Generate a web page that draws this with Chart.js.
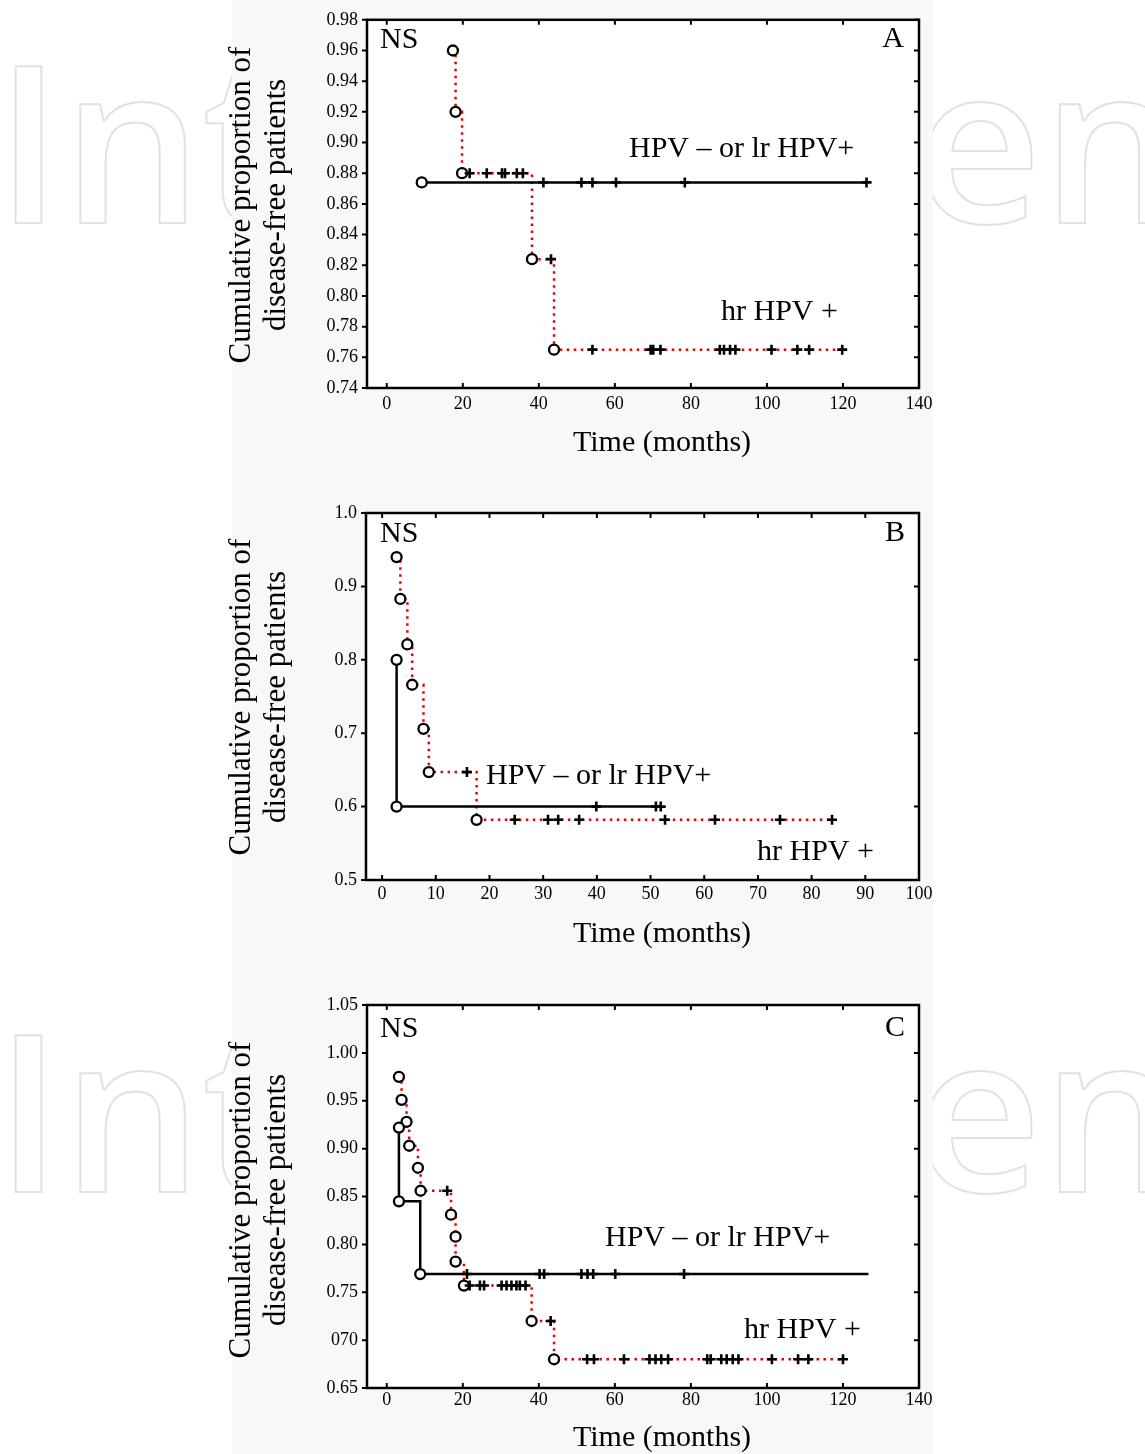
<!DOCTYPE html>
<html><head><meta charset="utf-8">
<script src="https://cdn.jsdelivr.net/npm/chart.js@4.4.0/dist/chart.umd.min.js"></script>
<style>
html,body{margin:0;padding:0;background:#fff;}
body{width:1145px;height:1454px;position:relative;overflow:hidden;}
.wm{position:absolute;font-family:'Open Sans';font-weight:600;font-size:220px;line-height:1;color:transparent;-webkit-text-stroke:2px #e2e2e2;white-space:nowrap;}
#bg{position:absolute;left:232px;top:0;width:701px;height:1454px;background:#f8f8f8;}
canvas{position:absolute;left:222px;}
</style></head><body>
<div class="wm" style="left:-5px;top:28px">Int</div>
<div class="wm" style="left:915px;top:28px">en</div>
<div class="wm" style="left:-5px;top:997px">Int</div>
<div class="wm" style="left:915px;top:997px">en</div>
<div id="bg"></div>
<canvas id="cA" width="720" height="475" style="top:0px"></canvas>
<canvas id="cB" width="720" height="475" style="top:490px"></canvas>
<canvas id="cC" width="720" height="469" style="top:985px"></canvas>
<script>
// ---------- Panel A ----------
const aXTicks = [0, 20, 40, 60, 80, 100, 120, 140];
const aYTicks = [0.74, 0.76, 0.78, 0.80, 0.82, 0.84, 0.86, 0.88, 0.90, 0.92, 0.94, 0.96, 0.98];
const aYTickLabels = ['0.74', '0.76', '0.78', '0.80', '0.82', '0.84', '0.86', '0.88', '0.90', '0.92', '0.94', '0.96', '0.98'];
const aLowEventTimes = [9.2];
const aLowEventValues = [0.874];
const aLowCensorTimes = [41.2, 51.2, 54.1, 60.3, 78.4, 126.2];
const aHighEventTimes = [17.4, 18.1, 19.8, 38.2, 44.0];
const aHighEventValues = [0.96, 0.92, 0.88, 0.824, 0.765];
const aHighCensorTimes = [21.8, 26.3, 30.3, 31.1, 34.2, 35.8, 43.2, 54.1, 69.4, 70.1, 72.0, 87.6, 88.7, 90.3, 91.7, 101.2, 108.0, 111.1, 119.8];

// ---------- Panel B ----------
const bXTicks = [0, 10, 20, 30, 40, 50, 60, 70, 80, 90, 100];
const bYTicks = [0.5, 0.6, 0.7, 0.8, 0.9, 1.0];
const bYTickLabels = ['0.5', '0.6', '0.7', '0.8', '0.9', '1.0'];
const bLowEventTimes = [2.7, 2.7];
const bLowEventValues = [0.80, 0.60];
const bLowCensorTimes = [39.9, 51.0, 51.9];
const bHighEventTimes = [2.7, 3.4, 4.7, 5.6, 7.7, 8.7, 17.6];
const bHighEventValues = [0.940, 0.883, 0.821, 0.766, 0.706, 0.647, 0.582];
const bHighCensorTimes = [15.8, 24.7, 30.9, 32.8, 36.7, 52.7, 62.0, 74.1, 83.8];

// ---------- Panel C ----------
const cXTicks = [0, 20, 40, 60, 80, 100, 120, 140];
const cYTicks = [0.65, 0.70, 0.75, 0.80, 0.85, 0.90, 0.95, 1.00, 1.05];
const cYTickLabels = ['0.65', '070', '0.75', '0.80', '0.85', '0.90', '0.95', '1.00', '1.05'];
const cLowEventTimes = [3.2, 3.2, 8.8];
const cLowEventValues = [0.922, 0.845, 0.769];
const cLowCensorTimes = [21.1, 40.2, 41.4, 51.2, 52.8, 54.3, 60.1, 78.2];
const cLowEndTime = 126.7;
const cHighEventTimes = [3.2, 3.9, 5.2, 5.9, 8.2, 8.9, 16.9, 18.1, 18.1, 20.3, 38.1, 44.0];
const cHighEventValues = [0.975, 0.951, 0.928, 0.903, 0.880, 0.856, 0.831, 0.808, 0.782, 0.757, 0.720, 0.680];
const cHighCensorTimes = [15.9, 21.8, 24.5, 25.6, 30.2, 31.5, 32.8, 34.1, 35.0, 36.5, 43.1, 52.7, 54.5, 62.4, 69.1, 70.7, 72.2, 74.0, 84.3, 85.2, 88.0, 89.4, 91.0, 92.5, 101.3, 108.2, 110.9, 120.0];

const lowLabel = 'HPV \u2013 or lr HPV+';
const highLabel = 'hr HPV +';
const SERIF = '"Liberation Serif", "Times New Roman", serif';
const RED = '#e60000';

function levelAt(times, values, t) {
  let lvl = null;
  for (let i = 0; i < times.length; i++) if (times[i] <= t) lvl = values[i];
  return lvl;
}
function buildPoints(evT, evV, cenT, endT) {
  const pts = evT.map((t, i) => ({x: t, y: evV[i], kind: 'e'}));
  cenT.forEach(t => pts.push({x: t, y: levelAt(evT, evV, t), kind: 'c'}));
  if (endT != null) pts.push({x: endT, y: levelAt(evT, evV, endT), kind: 'n'});
  pts.sort((a, b) => a.x - b.x);
  return pts;
}
function curveDataset(pts, color, dash) {
  return {
    data: pts, showLine: true, stepped: 'before',
    borderColor: color, borderWidth: 2.5, borderDash: dash, borderCapStyle: 'butt', fill: false,
    pointStyle: c => (c.raw && c.raw.kind === 'e') ? 'circle' : 'cross',
    pointRadius: c => !c.raw ? 0 : (c.raw.kind === 'e' ? 5 : (c.raw.kind === 'c' ? 5 : 0)),
    pointBorderWidth: c => (c.raw && c.raw.kind === 'e') ? 2.3 : 2.6,
    pointBorderColor: '#000', pointBackgroundColor: '#fff',
    clip: false
  };
}

const kmDecor = {
  id: 'kmDecor',
  beforeDraw(chart) {
    const {ctx, chartArea: a} = chart;
    ctx.save(); ctx.fillStyle = '#fff';
    ctx.fillRect(a.left, a.top, a.right - a.left, a.bottom - a.top);
    ctx.restore();
  },
  afterDatasetsDraw(chart, args, o) {
    const {ctx, chartArea: a, scales: {x, y}} = chart;
    ctx.save();
    ctx.strokeStyle = '#000'; ctx.lineWidth = 2.5;
    ctx.strokeRect(a.left, a.top, a.right - a.left, a.bottom - a.top);
    ctx.lineWidth = 2;
    ctx.beginPath();
    x.ticks.forEach(t => {
      const px = x.getPixelForValue(t.value);
      ctx.moveTo(px, a.top); ctx.lineTo(px, a.top + 5);
      ctx.moveTo(px, a.bottom); ctx.lineTo(px, a.bottom - 5);
    });
    y.ticks.forEach(t => {
      const py = y.getPixelForValue(t.value);
      ctx.moveTo(a.left - 5, py); ctx.lineTo(a.left, py);
      ctx.moveTo(a.right, py); ctx.lineTo(a.right - 5, py);
    });
    ctx.stroke();
    ctx.fillStyle = '#000'; ctx.textBaseline = 'middle';
    o.labels.forEach(l => {
      ctx.font = l.size + 'px ' + SERIF; ctx.textAlign = l.align;
      ctx.fillText(l.text, l.x, l.y);
    });
    ctx.font = o.yTitle.size + 'px ' + SERIF; ctx.textAlign = 'center';
    o.yTitle.lines.forEach((line, i) => {
      ctx.save(); ctx.translate(o.yTitle.xs[i], o.yTitle.cy); ctx.rotate(-Math.PI / 2);
      ctx.fillText(line, 0, 0); ctx.restore();
    });
    ctx.restore();
  }
};

function makeChart(id, c) {
  const tickFont = {family: SERIF, size: 18};
  return new Chart(document.getElementById(id), {
    type: 'scatter',
    data: {datasets: [
      curveDataset(buildPoints(c.lowT, c.lowV, c.lowC, c.lowEnd), '#000', []),
      curveDataset(buildPoints(c.highT, c.highV, c.highC, null), RED, [2.5, 4.5])
    ]},
    options: {
      responsive: false, animation: false, events: [],
      layout: {padding: {top: c.padTop, right: 23, left: 0, bottom: 0}},
      plugins: {
        legend: {display: false}, tooltip: {enabled: false},
        kmDecor: {
          labels: [
            {text: 'NS', x: 158, y: c.nsY, size: 30, align: 'left'},
            {text: c.letter, x: c.letterX, y: c.nsY - 1, size: 30, align: 'center'},
            {text: lowLabel, x: c.lowLX, y: c.lowLY, size: 30, align: 'left'},
            {text: highLabel, x: c.highLX, y: c.highLY, size: 30, align: 'left'},
            {text: 'Time (months)', x: 440, y: c.xTitleY, size: 30, align: 'center'}
          ],
          yTitle: {lines: ['Cumulative proportion of', 'disease-free patients'], xs: [20, 55], cy: c.yTitleY, size: 31}
        }
      },
      scales: {
        x: {
          type: 'linear', min: c.xMin, max: c.xMax,
          afterBuildTicks: s => { s.ticks = c.xTicks.map(v => ({value: v})); },
          afterFit: s => { s.height = c.xAxisH; },
          grid: {display: false, drawTicks: false}, border: {display: false},
          ticks: {font: tickFont, color: '#000', padding: c.xPad, maxRotation: 0, autoSkip: false, callback: v => String(v)}
        },
        y: {
          type: 'linear', min: c.yTicks[0], max: c.yTicks[c.yTicks.length - 1],
          afterBuildTicks: s => { s.ticks = c.yTicks.map(v => ({value: v})); },
          afterFit: s => { s.width = c.yAxisW; },
          grid: {display: false, drawTicks: false}, border: {display: false},
          ticks: {font: tickFont, color: '#000', padding: 9, autoSkip: false,
            callback: v => { const i = c.yTicks.findIndex(t => Math.abs(t - v) < 1e-9); return i >= 0 ? c.yLabels[i] : ''; }}
        }
      }
    },
    plugins: [kmDecor]
  });
}

makeChart('cA', {
  xTicks: aXTicks, xMin: -5.2, xMax: 140, yTicks: aYTicks, yLabels: aYTickLabels,
  lowT: aLowEventTimes, lowV: aLowEventValues, lowC: aLowCensorTimes, lowEnd: null,
  highT: aHighEventTimes, highV: aHighEventValues, highC: aHighCensorTimes,
  padTop: 15, xAxisH: 87, yAxisW: 145, xPad: 5,
  letter: 'A', letterX: 671, nsY: 40, lowLX: 407, lowLY: 149, highLX: 499, highLY: 312,
  xTitleY: 443, yTitleY: 205
});
makeChart('cB', {
  xTicks: bXTicks, xMin: -3, xMax: 100, yTicks: bYTicks, yLabels: bYTickLabels,
  lowT: bLowEventTimes, lowV: bLowEventValues, lowC: bLowCensorTimes, lowEnd: null,
  highT: bHighEventTimes, highV: bHighEventValues, highC: bHighCensorTimes,
  padTop: 23, xAxisH: 85, yAxisW: 144, xPad: 3,
  letter: 'B', letterX: 673, nsY: 44, lowLX: 264, lowLY: 286, highLX: 535, highLY: 362,
  xTitleY: 444, yTitleY: 207
});
makeChart('cC', {
  xTicks: cXTicks, xMin: -5.2, xMax: 140, yTicks: cYTicks, yLabels: cYTickLabels,
  lowT: cLowEventTimes, lowV: cLowEventValues, lowC: cLowCensorTimes, lowEnd: cLowEndTime,
  highT: cHighEventTimes, highV: cHighEventValues, highC: cHighCensorTimes,
  padTop: 20, xAxisH: 66, yAxisW: 145, xPad: 1,
  letter: 'C', letterX: 673, nsY: 44, lowLX: 383, lowLY: 253, highLX: 522, highLY: 345,
  xTitleY: 453, yTitleY: 215
});
</script>
</body></html>
